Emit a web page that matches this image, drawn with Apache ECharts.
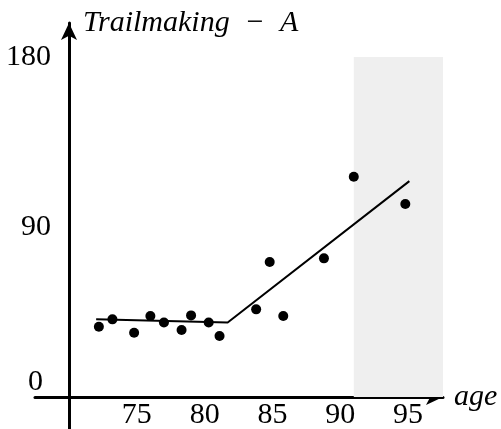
<!DOCTYPE html>
<html>
<head>
<meta charset="utf-8">
<script src="https://cdn.jsdelivr.net/npm/echarts@6/dist/echarts.min.js"></script>
<style>html,body{margin:0;padding:0;background:#fff}#c{width:501px;height:429px}</style>
</head>
<body>
<div id="c"></div>
<script>
var ages = [72.2, 73.2, 74.8, 76.0, 77.0, 78.3, 79.0, 80.3, 81.1, 83.8, 84.8, 85.8, 88.8, 91.0, 94.8];
var scores = [37.2, 41.1, 34.0, 42.9, 39.4, 35.5, 43.2, 39.4, 32.3, 46.4, 71.5, 42.9, 73.4, 116.6, 102.2];
var fitAges = [72.0, 81.7, 95.1];
var fitScores = [41.1, 39.4, 114.3];
var xTicks = [75, 80, 85, 90, 95];
var yTicks = [0, 90, 180];
var bandAges = [91, 97.8];
var bandScores = [0, 180];

var font = '"Liberation Serif", "Times New Roman", Times, serif';
var xMin = 67.49, xMax = 97.58;
var chart = echarts.init(document.getElementById('c'), null, {renderer: 'canvas'});
chart.setOption({
  animation: false,
  backgroundColor: '#fff',
  grid: {left: 35, top: 23, width: 408, height: 406, containLabel: false, outerBoundsMode: 'none'},
  xAxis: [{
    type: 'value', min: xMin, max: xMax,
    name: 'age', nameLocation: 'end', nameGap: 11,
    nameTextStyle: {fontFamily: font, fontStyle: 'italic', fontSize: 30, color: '#000', align: 'left', verticalAlign: 'middle'},
    axisLine: {onZero: true, lineStyle: {color: '#000', width: 3}, symbol: ['none', 'arrow'], symbolSize: [12, 17]},
    axisTick: {show: false},
    splitLine: {show: false},
    axisLabel: {show: false}
  }, {
    type: 'value', min: xMin, max: xMax, position: 'bottom', offset: -32,
    axisLine: {show: false, onZero: false},
    axisTick: {show: false},
    splitLine: {show: false},
    axisLabel: {customValues: xTicks, fontFamily: font, fontSize: 30, lineHeight: 22, color: '#000', margin: 7, hideOverlap: false}
  }],
  yAxis: {
    type: 'value', min: -16.94, max: 198,
    position: 'left', offset: -34,
    name: 'Trailmaking\u2002\u2212\u2002A', nameLocation: 'end', nameGap: 0,
    nameTextStyle: {fontFamily: font, fontStyle: 'italic', fontSize: 30, color: '#000', align: 'left', verticalAlign: 'middle', padding: [0, 0, 0, 14]},
    axisLine: {onZero: false, lineStyle: {color: '#000', width: 3}, symbol: ['none', 'arrow'], symbolSize: [12, 17]},
    axisTick: {show: false},
    splitLine: {show: false},
    axisLabel: {
      customValues: yTicks, fontFamily: font, fontSize: 30, color: '#000', margin: 18,
      formatter: function (v) { return v === 0 ? '{z|0}' : String(v); },
      rich: {z: {fontFamily: font, fontSize: 30, color: '#000', padding: [0, 8, 30, 0]}}
    }
  },
  series: [
    {
      type: 'line', clip: false, silent: true,
      data: fitAges.map(function (a, i) { return [a, fitScores[i]]; }),
      showSymbol: false, symbol: 'none',
      lineStyle: {color: '#000', width: 2},
      z: 3,
      markArea: {
        silent: true,
        itemStyle: {color: '#efefef'},
        data: [[{coord: [bandAges[0], bandScores[0]]}, {coord: [bandAges[1], bandScores[1]]}]]
      }
    },
    {
      type: 'scatter', silent: true,
      data: ages.map(function (a, i) { return [a, scores[i]]; }),
      symbolSize: 10,
      itemStyle: {color: '#000', opacity: 1},
      z: 4
    }
  ]
});
</script>
</body>
</html>
